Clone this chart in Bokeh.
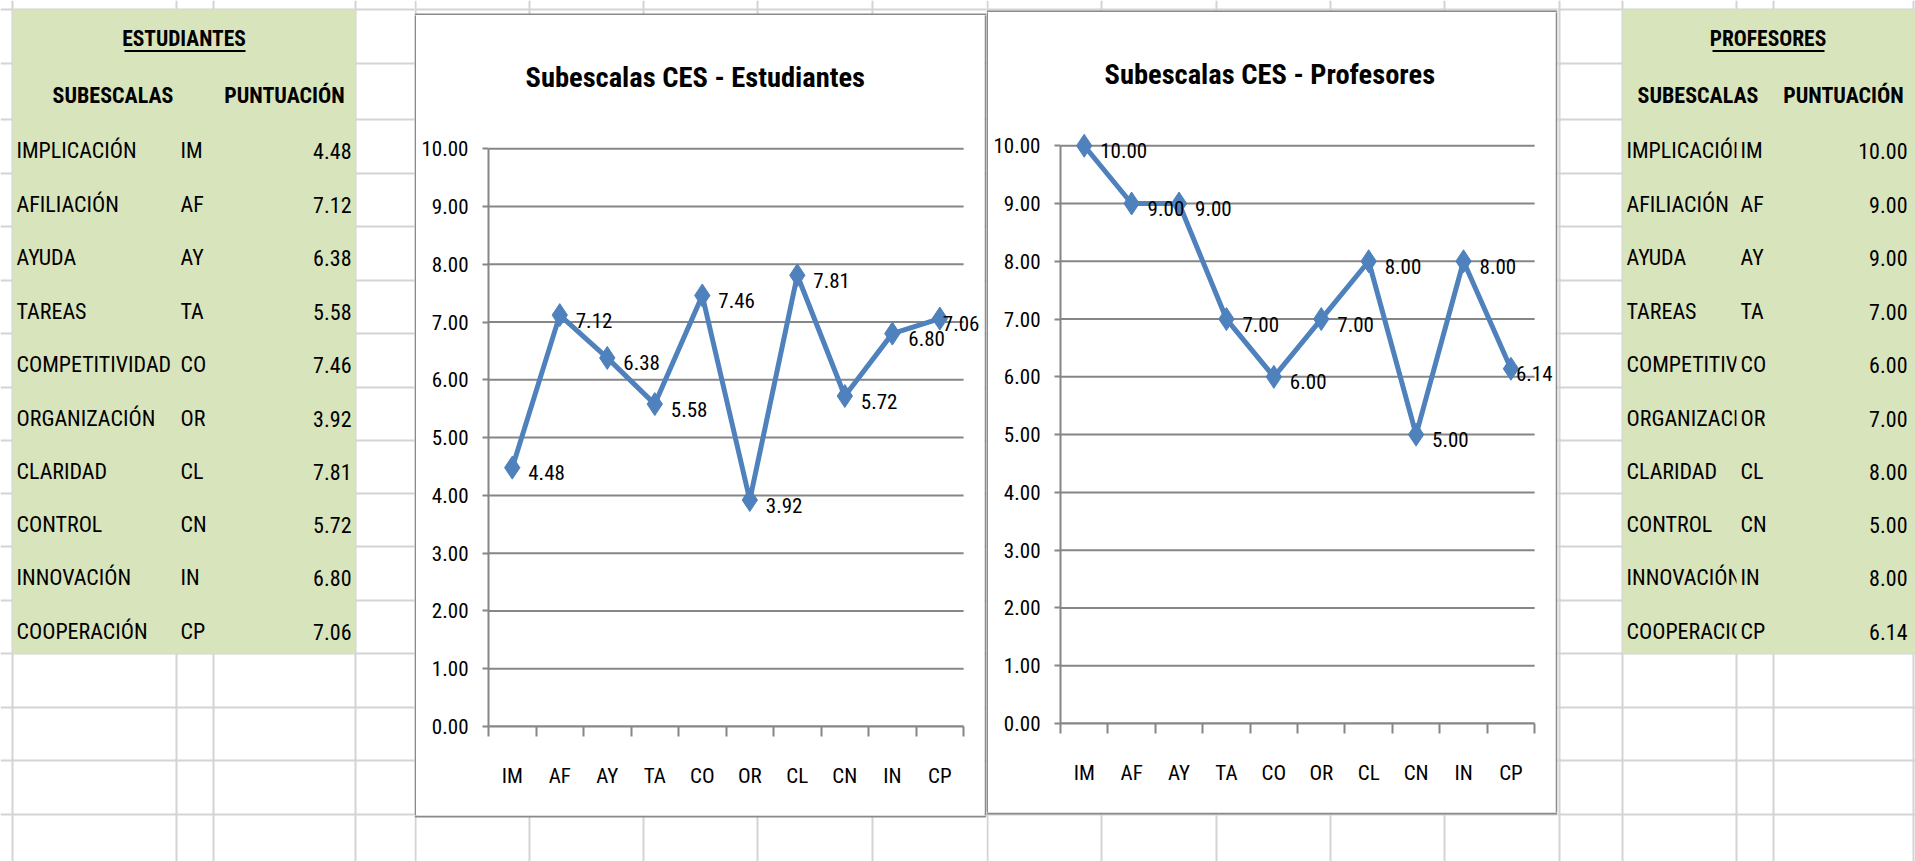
from bokeh.plotting import figure
from bokeh.layouts import row, column
from bokeh.models import (Range1d, FixedTicker, PrintfTickFormatter, ColumnDataSource, LabelSet)
from bokeh.embed import file_html
from bokeh.resources import INLINE
from bokeh.core.properties import value

# ---------------- data ----------------
subescalas = ["IMPLICACIÓN", "AFILIACIÓN", "AYUDA", "TAREAS", "COMPETITIVIDAD",
              "ORGANIZACIÓN", "CLARIDAD", "CONTROL", "INNOVACIÓN", "COOPERACIÓN"]
codigos = ["IM", "AF", "AY", "TA", "CO", "OR", "CL", "CN", "IN", "CP"]
estudiantes = [4.48, 7.12, 6.38, 5.58, 7.46, 3.92, 7.81, 5.72, 6.80, 7.06]
profesores = [10.00, 9.00, 9.00, 7.00, 6.00, 7.00, 8.00, 5.00, 8.00, 6.14]
y_ticks = [0, 1, 2, 3, 4, 5, 6, 7, 8, 9, 10]
titulo_est = "Subescalas CES - Estudiantes"
titulo_prof = "Subescalas CES - Profesores"
tabla_est = "ESTUDIANTES"
tabla_prof = "PROFESORES"
cab_sub = "SUBESCALAS"
cab_punt = "PUNTUACIÓN"

# ---------------- style / layout ----------------
FONT = "Roboto Condensed, Liberation Sans Narrow, Liberation Sans"
BLUE = "#4F81BD"
AX_C = "#868686"
BOX_C = "#8a8a8a"
SHEET_C = "#d4d4d4"
GREEN = "#D8E4BC"
ROWS = [9, 63, 119, 173, 226, 280, 333, 387, 440, 493, 546, 600, 653, 707, 760, 814, 867]
COLS = [12, 176, 213, 355, 415, 529, 643, 757, 872, 987, 1101, 1216, 1330, 1444,
        1559, 1622, 1736, 1773, 1913]
TXT = "22px"
HDR = "22px"
TTL = "21.5px"
AXF = "21px"
LBF = "21px"


def draw_table(p, title, vals, x_name, x_code, x_val, cx_title, cx_sub, cx_punt, ul, cover=None):
    p.text(x=[cx_title], y=[38], text=[title], text_font=value(FONT), text_font_size=TTL,
           text_font_style="bold", text_align="center", text_baseline="middle",
           text_color="black")
    p.segment(x0=[ul[0]], y0=[50.5], x1=[ul[1]], y1=[50.5], line_color="black", line_width=2)
    p.text(x=[cx_sub, cx_punt], y=[94.5] * 2, text=[cab_sub, cab_punt],
           text_font=value(FONT), text_font_size=HDR, text_font_style="bold",
           text_align="center", text_baseline="middle", text_color="black")
    ys = [ROWS[2 + i] + 31 for i in range(len(subescalas))]
    p.text(x=[x_name] * len(ys), y=ys, text=subescalas, text_font=value(FONT),
           text_font_size=TXT, text_align="left", text_baseline="middle",
           text_color="black")
    if cover is not None:
        p.quad(left=[cover], right=[1915], top=[ROWS[2]], bottom=[ROWS[12]],
               fill_color=GREEN, line_color=None)
    p.text(x=[x_code] * len(ys), y=ys, text=codigos, text_font=value(FONT),
           text_font_size=TXT, text_align="left", text_baseline="middle",
           text_color="black")
    p.text(x=[x_val] * len(ys), y=ys, text=[f"{v:.2f}" for v in vals], text_font=value(FONT),
           text_font_size=TXT, text_align="right", text_baseline="middle",
           text_color="black")


def sheet(x0, x1, y0, y1, side=None):
    p = figure(width=x1 - x0, height=y1 - y0, x_range=Range1d(x0, x1), y_range=Range1d(y1, y0),
               toolbar_location=None, output_backend="svg", min_border=0,
               x_axis_location=None, y_axis_location=None, outline_line_color=None,
               background_fill_color="white", border_fill_color="white")
    p.frame_align = False
    p.grid.visible = False
    p.segment(x0=COLS, y0=[0] * len(COLS), x1=COLS, y1=[861] * len(COLS),
              line_color=SHEET_C, line_width=2)
    p.segment(x0=[0] * len(ROWS), y0=ROWS, x1=[1915] * len(ROWS), y1=ROWS,
              line_color=SHEET_C, line_width=2)
    p.quad(left=[12, 1622], right=[355, 1915], top=[ROWS[0]] * 2, bottom=[ROWS[12]] * 2,
           fill_color=GREEN, line_color=None)
    p.quad(left=[415, 987], right=[985, 1556], top=[14, 11], bottom=[816, 813],
           fill_color="white", line_color=BOX_C, line_width=2)
    if side == "left":
        draw_table(p, tabla_est, estudiantes, 16, 180, 351, 183.5, 112.5, 284, (124, 245))
    elif side == "right":
        draw_table(p, tabla_prof, profesores, 1626, 1740, 1907, 1767.5, 1697.5, 1843,
                   (1712, 1824), cover=1736)
    return p


def chart(title, vals, w, h, title_offset, last_offset):
    n = len(codigos)
    pos = [i + 0.5 for i in range(n)]
    p = figure(width=w, height=h, x_range=Range1d(0, 10.44), y_range=Range1d(0, 10.35),
               toolbar_location=None, output_backend="svg",
               min_border_left=72, min_border_right=0, min_border_top=113,
               min_border_bottom=89, outline_line_color=None,
               background_fill_color="white", border_fill_color="white")
    p.frame_align = False
    p.grid.visible = False

    # horizontal gridlines spanning the category area only
    p.segment(x0=[0] * len(y_ticks), x1=[n] * len(y_ticks), y0=y_ticks, y1=y_ticks,
              line_color=AX_C, line_width=2)

    yax = p.yaxis[0]
    yax.ticker = FixedTicker(ticks=y_ticks)
    yax.formatter = PrintfTickFormatter(format="%.2f")
    yax.bounds = (0, 10)
    yax.axis_line_color = AX_C
    yax.axis_line_width = 2
    yax.major_tick_line_color = AX_C
    yax.major_tick_line_width = 2
    yax.major_tick_out = 6
    yax.major_tick_in = 0
    yax.minor_tick_line_color = None
    yax.major_label_standoff = 14
    yax.major_label_text_font = FONT
    yax.major_label_text_font_size = AXF
    yax.major_label_text_color = "black"

    xax = p.xaxis[0]
    xax.ticker = FixedTicker(ticks=pos, minor_ticks=list(range(n + 1)))
    xax.major_label_overrides = {pos[i]: c for i, c in enumerate(codigos)}
    xax.bounds = (0, n)
    xax.axis_line_color = AX_C
    xax.axis_line_width = 2
    xax.major_tick_line_color = None
    xax.major_tick_out = 0
    xax.major_tick_in = 0
    xax.minor_tick_line_color = AX_C
    xax.minor_tick_line_width = 2
    xax.minor_tick_out = 10
    xax.minor_tick_in = 0
    xax.major_label_standoff = 27
    xax.major_label_text_font = FONT
    xax.major_label_text_font_size = AXF
    xax.major_label_text_color = "black"

    p.title.text = title
    p.title.text_font = FONT
    p.title.text_font_size = "28.5px"
    p.title.text_font_style = "bold"
    p.title.text_color = "black"
    p.title.align = "left"
    p.title.offset = title_offset
    p.title.standoff = 70

    offs = [16] * (n - 1) + [last_offset]
    src = ColumnDataSource(dict(x=pos, y=vals, label=[f"{v:.2f}" for v in vals], xo=offs))
    p.line("x", "y", source=src, line_width=5, line_color=BLUE, line_join="round")
    p.scatter("x", "y", source=src, marker="diamond", size=23, fill_color=BLUE, line_color=BLUE)
    labels = LabelSet(x="x", y="y", text="label", source=src, x_offset="xo", y_offset=-5,
                      text_font=value(FONT), text_font_size=LBF, text_color="black",
                      text_align="left", text_baseline="middle")
    p.add_layout(labels)
    return p


FL = sheet(0, 414, 0, 861, side="left")
T1 = sheet(414, 986, 0, 15)
L1 = sheet(414, 416, 15, 815)
C1 = chart(titulo_est, estudiantes, 568, 800, 37, 3)
R1 = sheet(984, 986, 15, 815)
B1 = sheet(414, 986, 815, 861)

T2 = sheet(986, 1557, 0, 12)
L2 = sheet(986, 988, 12, 812)
C2 = chart(titulo_prof, profesores, 567, 800, 44, 5)
R2 = sheet(1555, 1557, 12, 812)
B2 = sheet(986, 1557, 812, 861)

FR = sheet(1557, 1915, 0, 861, side="right")

layout = row(FL,
             column(T1, row(L1, C1, R1, spacing=0), B1, spacing=0),
             column(T2, row(L2, C2, R2, spacing=0), B2, spacing=0),
             FR, spacing=0)

open("out.html", "w").write(file_html(layout, INLINE))
